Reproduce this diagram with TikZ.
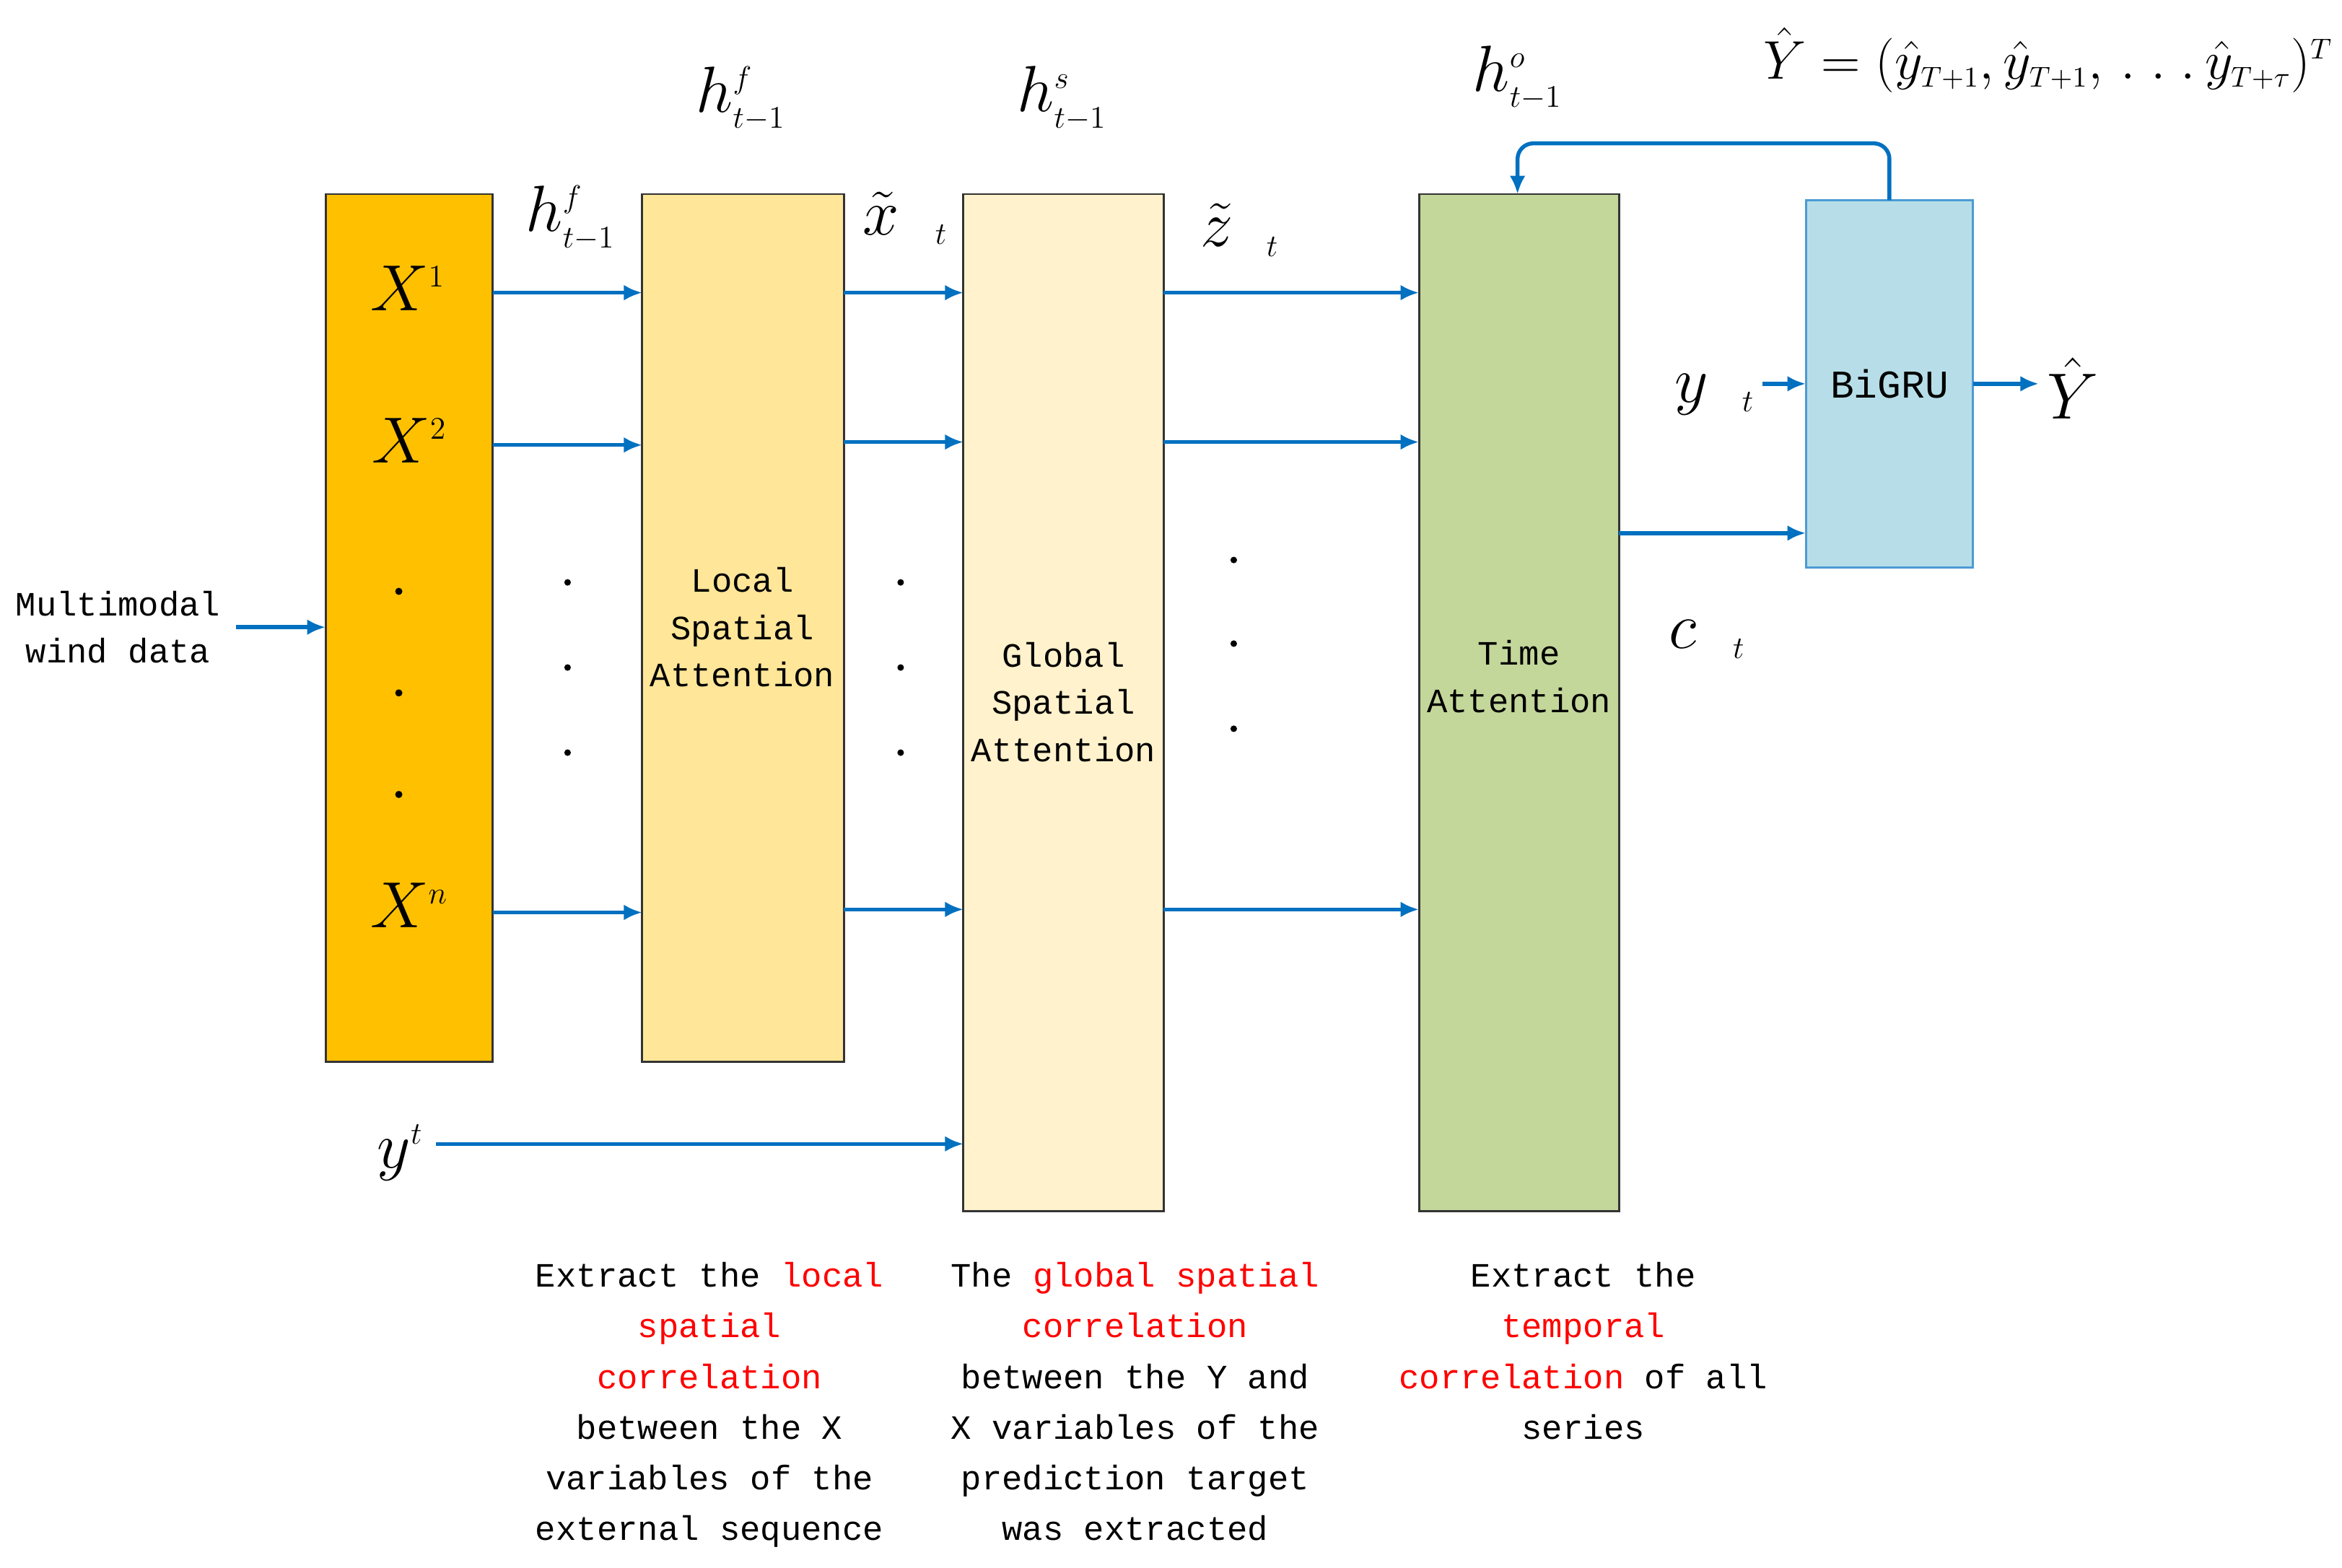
\documentclass[tikz,border=0pt]{standalone}
\usepackage{fontspec}
\setmainfont{Liberation Mono}
\usetikzlibrary{arrows.meta}
\definecolor{arr}{RGB}{0,112,192}
\definecolor{c1}{RGB}{255,192,0}
\definecolor{c2}{RGB}{255,230,153}
\definecolor{c3}{RGB}{255,242,204}
\definecolor{c4}{RGB}{196,215,155}
\definecolor{c5}{RGB}{183,222,232}
\definecolor{rd}{RGB}{255,0,0}
\begin{document}
\begin{tikzpicture}[x=0.02cm,y=-0.02cm,
 box/.style={draw=black!80,line width=0.8pt},
 ar/.style={draw=arr,line width=1.5pt,-{Latex[length=7pt,width=6pt]}},
 txt/.style={font=\fontsize{13}{18}\selectfont,align=center,inner sep=0},
 bt/.style={txt,anchor=north,font=\fontsize{13}{19.3}\selectfont},
 m/.style={font=\fontsize{23}{27}\selectfont,inner sep=0}]
\useasboundingbox (0,0) rectangle (1568,1050);
\fill[white] (0,0) rectangle (1568,1050);
\draw[box,fill=c1] (218,130) rectangle (330,711);
\draw[box,fill=c2] (430,130) rectangle (565,711);
\draw[box,fill=c3] (645,130) rectangle (779,811);
\draw[box,fill=c4] (950,130) rectangle (1084,811);
\draw[draw=arr!70,line width=0.8pt,fill=c5] (1209,134) rectangle (1321,380);
\node[txt] (loc) at (497,420) {Local\\Spatial\\Attention};
\node[txt] (glo) at (712,470) {Global\\Spatial\\Attention};
\node[txt] (tim) at (1017,453) {Time\\Attention};
\node[txt,font=\fontsize{15}{18}\selectfont] (bg) at (1265,257) {BiGRU};
\node[txt] (mm) at (79,420) {Multimodal\\wind data};
\coordinate (a0) at (158,420); \coordinate (a1) at (218,420);
\draw[ar] (a0) -- (a1);
\foreach \y/\n in {196/a,298/b,611/c}{
 \coordinate (p\n) at (330,\y); \coordinate (q\n) at (430,\y);
 \draw[ar] (p\n) -- (q\n);}
\foreach \y/\n in {196/a,296/b,609/c}{
 \coordinate (r\n) at (565,\y); \coordinate (s\n) at (645,\y);
 \draw[ar] (r\n) -- (s\n);
 \coordinate (u\n) at (779,\y); \coordinate (v\n) at (950,\y);
 \draw[ar] (u\n) -- (v\n);}
\node[m] (yt) at (268,772) {$y^{\scriptscriptstyle t}$};
\coordinate (yte) at (645,766);
\draw[ar] (292,766) -- (yte);
\coordinate (ct0) at (1084,357); \coordinate (ct1) at (1209,357);
\draw[ar] (ct0) -- (ct1);
\coordinate (y0) at (1180,257); \coordinate (y1) at (1209,257);
\draw[ar] (y0) -- (y1);
\coordinate (o0) at (1321,257); \coordinate (o1) at (1365,257);
\draw[ar] (o0) -- (o1);
\draw[ar,rounded corners=6pt] (1265,134) -- (1265,96) -- (1016,96) -- (1016,130);
\node[m] (x1) at (273,193) {$X^{\scriptscriptstyle 1}$};
\node[m] (x2) at (274,295) {$X^{\scriptscriptstyle 2}$};
\node[m] (xn) at (274,606) {$X^{\scriptscriptstyle n}$};
\foreach \y in {396,464,532} \fill (267,\y) circle (2.4);
\foreach \x in {380,603} \foreach \y in {390,447,504} \fill (\x,\y) circle (2.2);
\foreach \y in {375,431,488} \fill (826,\y) circle (2.2);
\node[m] (h1) at (382,146) {$h^{\scriptscriptstyle f}_{\scriptscriptstyle t-1}$};
\node[m] (h2) at (496,66) {$h^{\scriptscriptstyle f}_{\scriptscriptstyle t-1}$};
\node[m] (h3) at (711,66) {$h^{\scriptscriptstyle s}_{\scriptscriptstyle t-1}$};
\node[m] (h4) at (1016,52) {$h^{\scriptscriptstyle o}_{\scriptscriptstyle t-1}$};
\node[m] (xt) at (606,146) {$\tilde{x}_{\scriptscriptstyle\ t}$};
\node[m] (zt) at (830,154) {$\tilde{z}_{\scriptscriptstyle\ t}$};
\node[m] (ylab) at (1148,264) {$y_{\scriptscriptstyle\ t}$};
\node[m] (clab) at (1143,428) {$c_{\scriptscriptstyle\ t}$};
\node[m,font=\fontsize{28}{32}\selectfont] (yh) at (1388,260) {$\hat{Y}$};
\node[m,anchor=east,font=\fontsize{21}{25}\selectfont] (eq) at (1562,40) {$\hat{Y}=(\hat{y}_{\scriptscriptstyle T+1},\hat{y}_{\scriptscriptstyle T+1},\,.\;.\;.\,\hat{y}_{\scriptscriptstyle T+\tau})^{\scriptscriptstyle T}$};
\node[bt] (t1) at (475,845) {Extract the \textcolor{rd}{local}\\\textcolor{rd}{spatial}\\\textcolor{rd}{correlation}\\between the X\\variables of the\\external sequence};
\node[bt] (t2) at (760,845) {The \textcolor{rd}{global spatial}\\\textcolor{rd}{correlation}\\between the Y and\\X variables of the\\prediction target\\was extracted};
\node[bt] (t3) at (1060,845) {Extract the\\\textcolor{rd}{temporal}\\\textcolor{rd}{correlation} of all\\series};
\end{tikzpicture}
\end{document}
